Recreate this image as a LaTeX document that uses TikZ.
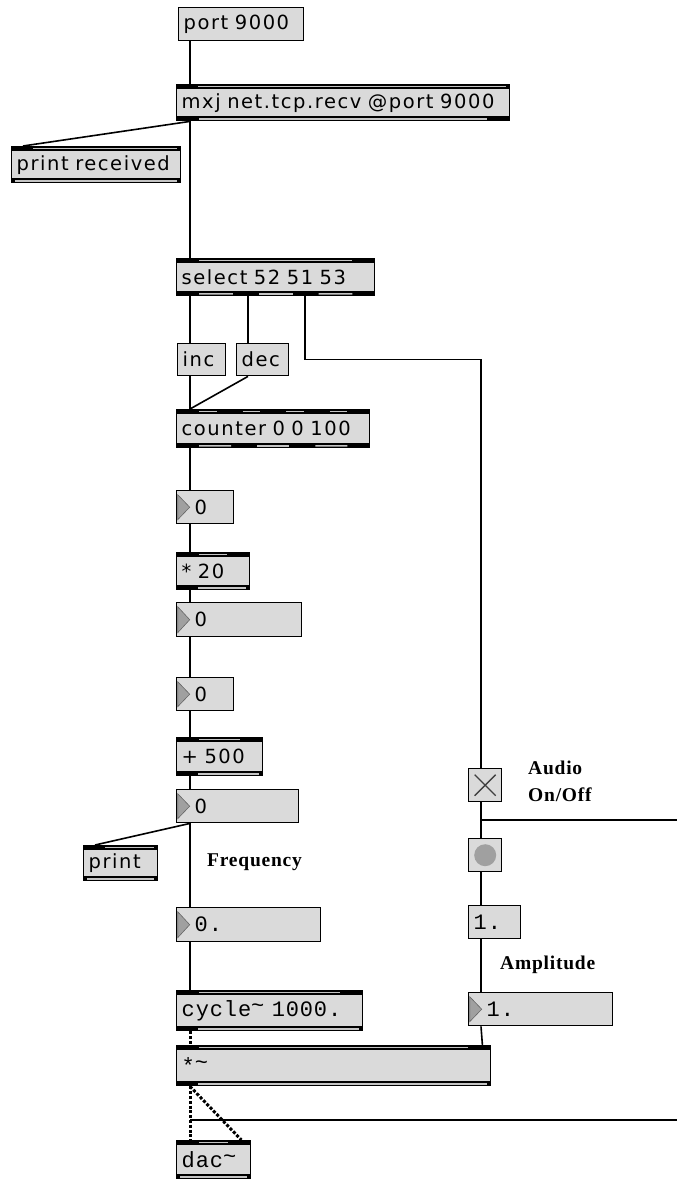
\documentclass[tikz,border=0pt]{standalone}
\usepackage{fontspec}
\usetikzlibrary{calc}
\newfontfamily\genevafont[LetterSpace=8]{DejaVu Sans}
\newfontfamily\monacofont[LetterSpace=4]{Liberation Mono}
\newfontfamily\timesfont[LetterSpace=4]{Liberation Serif}
\definecolor{BoxGray}{RGB}{218,218,218}
\definecolor{GapGray}{RGB}{196,196,196}
\definecolor{KnobGray}{RGB}{160,160,160}
\newcommand\sig{\raisebox{.35ex}{\textasciitilde}}
\tikzset{
  maxbox/.style={draw=black,line width=1.4pt,fill=BoxGray,rectangle,anchor=north west,
    inner xsep=5pt,inner ysep=0pt,align=left,font=\genevafont\fontsize{19.5}{21}\selectfont},
  boxw/.style={text width=#1pt-10pt},
  boxh/.style={minimum height=#1pt},
  objbox/.style={maxbox},
  msgbox/.style={maxbox},
  numbox/.style={maxbox,execute at begin node=\hspace*{13pt},
    path picture={\fill[KnobGray,draw=black!60,line width=0.6pt]
      ([shift={(1pt,-4pt)}]path picture bounding box.north west) --
      ([xshift=13pt]path picture bounding box.west) --
      ([shift={(1pt,4pt)}]path picture bounding box.south west) -- cycle;}},
  togbox/.style={draw=black,line width=1.4pt,fill=BoxGray,anchor=north west,
    minimum size=33pt,inner sep=0pt,
    path picture={\draw[black!75,line width=1.3pt]
      ([shift={(6pt,-6pt)}]path picture bounding box.north west) --
      ([shift={(-6pt,6pt)}]path picture bounding box.south east)
      ([shift={(-6pt,-6pt)}]path picture bounding box.north east) --
      ([shift={(6pt,6pt)}]path picture bounding box.south west);}},
  btnbox/.style={draw=black,line width=1.4pt,fill=BoxGray,anchor=north west,
    minimum size=33pt,inner sep=0pt,
    path picture={\fill[KnobGray] (path picture bounding box.center) circle (11pt);}},
  monotext/.style={font=\monacofont\fontsize{22}{24}\selectfont},
  annot/.style={font=\timesfont\bfseries\fontsize{19.5}{27}\selectfont,
    anchor=west,align=left,inner sep=0pt},
  cord/.style={line width=1.6pt},
  sigcord/.style={line width=3pt,dash pattern=on 3pt off 1.8pt},
  gapline/.style={draw=GapGray,line width=1.5pt},
}
% black inlet/outlet bands of an object box
\newcommand\maxgaps[4]{%
  \ifnum#4<2
    \ifnum#4=1
      \draw[gapline] ([shift={(22pt,#3)}]#1.#2 west) -- ([shift={(-4pt,#3)}]#1.#2 east);
    \else
      \draw[gapline] ([shift={(4pt,#3)}]#1.#2 west) -- ([shift={(-4pt,#3)}]#1.#2 east);
    \fi
  \else
    \pgfmathtruncatemacro\gapn{#4-1}%
    \foreach \i in {1,...,\gapn}{
      \draw[gapline]
        ($([shift={(23pt,#3)}]#1.#2 west)!{(\i-1)/\gapn}!([shift={(3pt,#3)}]#1.#2 east)$) --
        ($([shift={(-3pt,#3)}]#1.#2 west)!{\i/\gapn}!([shift={(-23pt,#3)}]#1.#2 east)$);
    }
  \fi}
\newcommand\maxports[3]{%
  \fill (#1.north west) rectangle ([yshift=-5pt]#1.north east);
  \fill ([yshift=5pt]#1.south west) rectangle (#1.south east);
  \maxgaps{#1}{north}{-2.5pt}{#2}
  \maxgaps{#1}{south}{2.5pt}{#3}}

\begin{document}
\begin{tikzpicture}[x=1pt,y=-1pt]
  \useasboundingbox[fill=white] (0,0) rectangle (677,1180);
  % network input and counter
  \node[msgbox,boxw=125,boxh=33] (port) at (178,7) {port 9000};
  \node[objbox,boxw=333,boxh=36] (recv) at (176,84) {mxj net.tcp.recv @port 9000};
  \node[objbox,boxw=169,boxh=36] (prrec) at (11,146) {print received};
  \node[objbox,boxw=198,boxh=37] (sel) at (176,258) {select 52 51 53};
  \node[msgbox,boxw=48,boxh=32] (inc) at (177,343) {inc};
  \node[msgbox,boxw=52,boxh=32] (dec) at (236,343) {dec};
  \node[objbox,boxw=193,boxh=38] (ctr) at (176,409) {counter 0 0 100};
  % frequency chain
  \node[numbox,boxw=57,boxh=33] (num1) at (176,490) {0};
  \node[objbox,boxw=73,boxh=37] (mul) at (176,552) {* 20};
  \node[numbox,boxw=125,boxh=34] (num2) at (176,602) {0};
  \node[numbox,boxw=57,boxh=33] (num3) at (176,677) {0};
  \node[objbox,boxw=86,boxh=38] (add) at (176,737) {+ 500};
  \node[numbox,boxw=122,boxh=33] (num4) at (176,789) {0};
  \node[objbox,boxw=74,boxh=35] (prt) at (83,845) {print};
  \node[annot] (freq) at (207,862) {Frequency};
  \node[numbox,monotext,boxw=144,boxh=34] (freqnum) at (176,907) {0.};
  \node[objbox,monotext,boxw=186,boxh=40] (osc) at (176,990) {cycle\sig\ 1000.};
  \node[objbox,monotext,boxw=314,boxh=40] (vca) at (176,1045) {*\sig};
  \node[objbox,monotext,boxw=74,boxh=38] (dac) at (176,1140) {dac\sig};
  % audio switch and amplitude
  \node[togbox] (tog) at (468,768) {};
  \node[annot] (audio) at (528,781) {Audio\\On/Off};
  \node[btnbox] (btn) at (468,838) {};
  \node[msgbox,monotext,boxw=52,boxh=33] (ampmsg) at (468,905) {1.};
  \node[annot] (amp) at (500,965) {Amplitude};
  \node[numbox,monotext,boxw=144,boxh=33] (ampnum) at (468,992) {1.};
  \coordinate (dspout) at (677,820);
  \coordinate (tapL) at (190,1120);
  \coordinate (tapR) at (677,1120);

  \maxports{recv}{1}{2}
  \maxports{prrec}{1}{0}
  \maxports{sel}{2}{4}
  \maxports{ctr}{5}{4}
  \maxports{mul}{2}{1}
  \maxports{add}{2}{1}
  \maxports{prt}{1}{0}
  \maxports{osc}{2}{1}
  \maxports{vca}{2}{1}
  \maxports{dac}{2}{0}

  % cords
  \draw[cord] ([xshift=12pt]port.south west) -- ([xshift=14pt]recv.north west);
  \draw[cord] ([xshift=14pt]recv.south west) -- ([xshift=12pt]prrec.north west);
  \draw[cord] ([xshift=14pt]recv.south west) -- ([xshift=14pt]sel.north west);
  \draw[cord] ([xshift=14pt]sel.south west) -- ([xshift=13pt]inc.north west);
  \draw[cord] ([xshift=72pt]sel.south west) -- ([xshift=12pt]dec.north west);
  \draw[cord] ([xshift=129pt]sel.south west) -- ++(0,63) -| ([xshift=13pt]tog.north west);
  \draw[cord] ([xshift=13pt]inc.south west) -- ([xshift=14pt]ctr.north west);
  \draw[cord] ([xshift=12pt]dec.south west) -- ([xshift=14pt]ctr.north west);
  \foreach \a/\b in {ctr/num1,num1/mul,mul/num2,num2/num3,num3/add,add/num4,num4/freqnum,freqnum/osc}
    \draw[cord] ([xshift=14pt]\a.south west) -- ([xshift=14pt]\b.north west);
  \draw[cord] ([xshift=14pt]num4.south west) -- ([xshift=12pt]prt.north west);
  \draw[sigcord] ([xshift=14pt]osc.south west) -- ([xshift=14pt]vca.north west);
  \draw[sigcord] ([xshift=14pt]vca.south west) -- ([xshift=14pt]dac.north west);
  \draw[sigcord] ([xshift=14pt]vca.south west) -- ([xshift=-10pt]dac.north east);
  \draw[cord] ([xshift=13pt]tog.south west) -- ([xshift=13pt]btn.north west);
  \draw[cord] ([xshift=13pt]tog.south west) |- (dspout);
  \foreach \a/\b in {btn/ampmsg,ampmsg/ampnum}
    \draw[cord] ([xshift=13pt]\a.south west) -- ([xshift=13pt]\b.north west);
  \draw[cord] ([xshift=13pt]ampnum.south west) -- ([xshift=-9pt]vca.north east);
  \draw[cord,line width=1.3pt] (tapL) -- (tapR);
\end{tikzpicture}
\end{document}
